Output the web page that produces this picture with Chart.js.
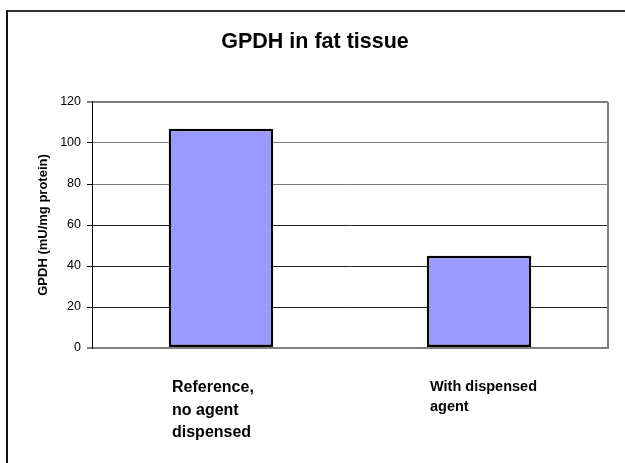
<!DOCTYPE html>
<html>
<head>
<meta charset="utf-8">
<title>GPDH in fat tissue</title>
<script src="https://cdn.jsdelivr.net/npm/chart.js@4/dist/chart.umd.min.js"></script>
<style>
  html, body { margin: 0; padding: 0; background: #fff; }
  #wrap { position: relative; width: 625px; height: 463px; overflow: hidden; }
  #frame {
    position: absolute; left: 6px; top: 10px; width: 700px; height: 500px;
    border-left: 2px solid #111; border-top: 2px solid #333;
  }
  #c { position: absolute; left: 0; top: 0; }
</style>
</head>
<body>
<div id="wrap">
  <div id="frame"></div>
  <canvas id="c" width="625" height="463"></canvas>
</div>
<script>
// Categories (multi-line labels), measured GPDH activity and the value axis ticks
const categories = [
  ["Reference,", "no agent", "dispensed"],
  ["With dispensed", "agent"]
];
const gpdhValues = [107, 45];
const yTickValues = [0, 20, 40, 60, 80, 100, 120];

const FONT = "'Liberation Sans', Arial, Helvetica, sans-serif";

// Grey frame on the right side of the plot area
const plotFrame = {
  id: 'plotFrame',
  afterDraw(chart) {
    const { ctx, chartArea: a } = chart;
    ctx.save();
    ctx.strokeStyle = '#808080';
    ctx.lineWidth = 2;
    ctx.beginPath();
    ctx.moveTo(a.right, a.top);
    ctx.lineTo(a.right, a.bottom);
    ctx.stroke();
    ctx.restore();
  }
};

function gridColor(ctx) {
  const v = ctx.tick ? ctx.tick.value : 0;
  if (v === 0 || v === 120) return '#808080';
  if (v >= 80) return '#7c7c7c';
  return '#222';
}

new Chart(document.getElementById('c'), {
  type: 'bar',
  data: {
    labels: categories,
    datasets: [{
      data: gpdhValues,
      backgroundColor: '#9999ff',
      borderColor: '#000',
      borderWidth: 2.5,
      borderSkipped: false,
      categoryPercentage: 1,
      barPercentage: 0.405
    }]
  },
  plugins: [plotFrame],
  options: {
    responsive: false,
    animation: false,
    devicePixelRatio: 1,
    layout: { padding: { left: 22, right: 17, top: 0, bottom: 0 } },
    plugins: {
      legend: { display: false },
      tooltip: { enabled: false },
      title: {
        display: true,
        text: 'GPDH in fat tissue',
        color: '#000',
        font: { family: FONT, size: 21.5, weight: 'bold', lineHeight: 1.2 },
        padding: { top: 29.4, bottom: 46.8 }
      }
    },
    scales: {
      x: {
        grid: { display: false, drawTicks: false },
        border: { display: true, color: '#808080', width: 2 },
        ticks: {
          color: '#000',
          autoSkip: false,
          maxRotation: 0,
          minRotation: 0,
          align: 'start',
          labelOffset: -49,
          padding: 28.5,
          font: (ctx) => ctx.index === 0
            ? { family: FONT, size: 16, weight: 'bold', lineHeight: 1.4 }
            : { family: FONT, size: 14.5, weight: 'bold', lineHeight: 1.4 }
        },
        afterFit(scale) { scale.height = 115; }
      },
      y: {
        min: 0,
        max: 120,
        afterBuildTicks(scale) {
          scale.ticks = yTickValues.map(v => ({ value: v }));
        },
        grid: {
          color: gridColor,
          lineWidth: (ctx) => (ctx.tick && (ctx.tick.value === 0 || ctx.tick.value === 120)) ? 2 : 1,
          tickColor: '#000',
          tickLength: 5,
          tickWidth: 1
        },
        border: { display: true, color: '#000', width: 1 },
        ticks: {
          color: '#000',
          padding: 6,
          font: { family: FONT, size: 12.5 }
        },
        title: {
          display: true,
          text: 'GPDH (mU/mg protein)',
          color: '#000',
          font: { family: FONT, size: 13, weight: 'bold', lineHeight: 1.2 },
          padding: { top: 13.2, bottom: 0 }
        },
        afterFit(scale) { scale.width = 70; }
      }
    }
  }
});
</script>
</body>
</html>
